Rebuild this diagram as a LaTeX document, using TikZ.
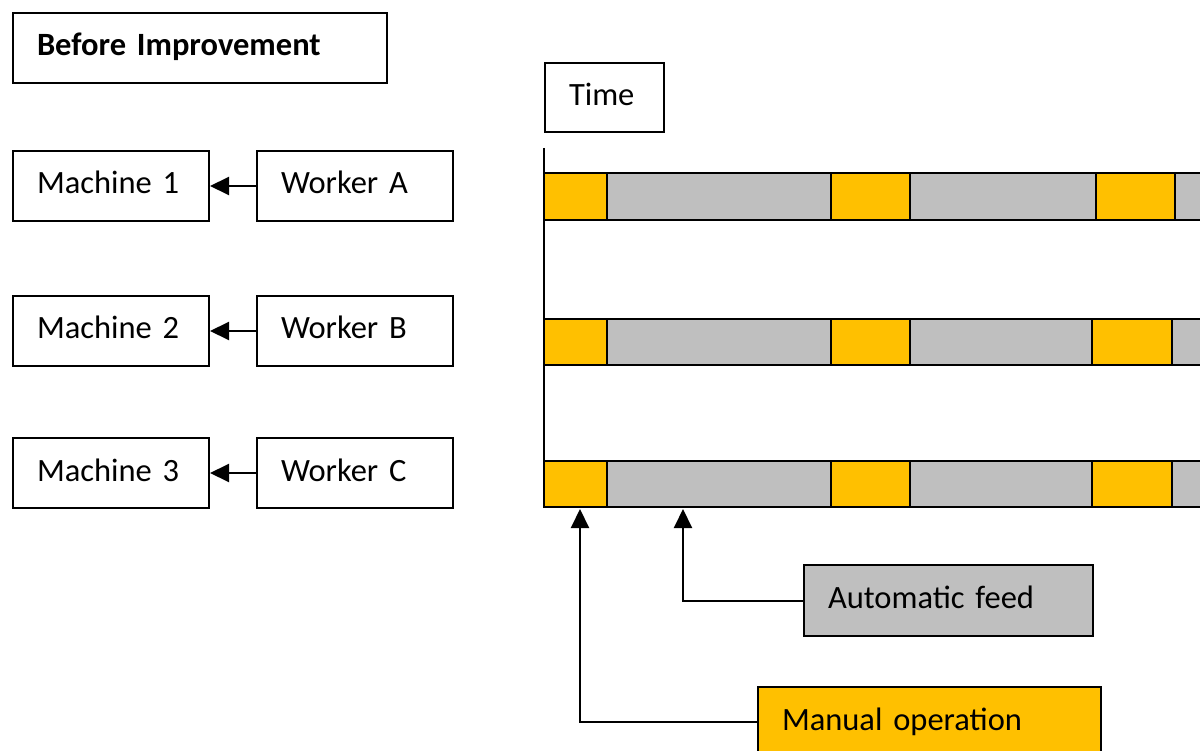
\documentclass[tikz,border=0pt]{standalone}
\usepackage{fontspec}
\setmainfont{Carlito}
\usetikzlibrary{arrows.meta}
\definecolor{ybar}{HTML}{FFC000}
\definecolor{gbar}{HTML}{BFBFBF}
\begin{document}
\begin{tikzpicture}[x=1pt,y=-1pt,
  box/.style={draw=black, line width=2pt, fill=white, anchor=north west, inner xsep=24pt, inner ysep=0pt, minimum height=70pt, text height=23pt, text depth=7pt, align=left, font=\fontsize{32.5}{40}\selectfont},
  arr/.style={line width=2pt, -{Triangle[length=19pt,width=18pt]}},
  seg/.style={draw=black, line width=2pt}]
\clip (0,0) rectangle (1200,751);
\fill[white] (0,0) rectangle (1200,751);
% left side
\node[box, text width=326pt] (title) at (12,12) {\bfseries Before Improvement};
\node[box, text width=148pt] (m1) at (12,150) {Machine 1};
\node[box, text width=148pt] (wA) at (256,150) {Worker A};
\node[box, text width=148pt] (m2) at (12,295) {Machine 2};
\node[box, text width=148pt] (wB) at (256,295) {Worker B};
\node[box, text width=148pt] (m3) at (12,437) {Machine 3};
\node[box, text width=148pt] (wC) at (256,437) {Worker C};
\draw[arr] (wA.west) -- (m1.east);
\draw[arr] (wB.west) -- (m2.east);
\draw[arr] (wC.west) -- (m3.east);
% time chart
\node[box, text width=71pt, minimum height=69pt] (time) at (544,62) {Time};
\foreach \t/\b/\xa/\xb in {173/220/1096/1175, 319/365/1092/1172, 461/507/1092/1172}{
  \filldraw[seg, fill=ybar] (544,\t) rectangle (607,\b);
  \filldraw[seg, fill=gbar] (607,\t) rectangle (831,\b);
  \filldraw[seg, fill=ybar] (831,\t) rectangle (910,\b);
  \filldraw[seg, fill=gbar] (910,\t) rectangle (\xa,\b);
  \filldraw[seg, fill=ybar] (\xa,\t) rectangle (\xb,\b);
  \filldraw[seg, fill=gbar] (\xb,\t) rectangle (1215,\b);
}
\draw[line width=2pt] (544,148) -- (544,507);
% legend
\coordinate (tm) at (580,509);
\coordinate (ta) at (683,509);
\node[box, fill=gbar, text width=241pt, minimum height=71pt] (auto) at (803,564) {Automatic feed};
\node[box, fill=ybar, text width=295pt] (man) at (757,686) {Manual operation};
\draw[arr] (auto.west) -| (ta);
\draw[arr] (man.west) -| (tm);
\end{tikzpicture}
\end{document}
